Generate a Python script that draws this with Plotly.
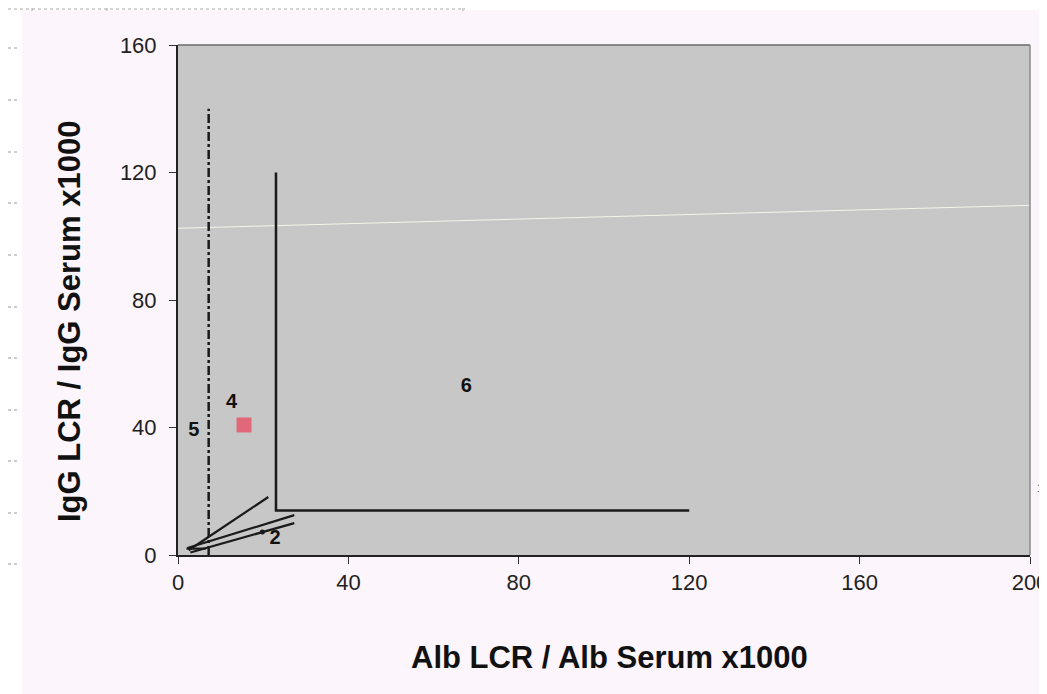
import plotly.graph_objects as go

# ---- data ----
x_ticks = [0, 40, 80, 120, 160, 200]
y_ticks = [0, 40, 80, 120, 160]

# dash-dot vertical limit
dashdot_x = [7.2, 7.2]
dashdot_y = [0, 140]

# solid corner boundary (vertical then horizontal)
corner_x = [23, 23, 120]
corner_y = [120, 14, 14]

# diagonal reference lines
diag_steep_x = [2.5, 21.2]
diag_steep_y = [1.5, 18.2]
diag_upper_x = [2.2, 27.3]
diag_upper_y = [2.2, 12.5]
diag_lower_x = [2.9, 27.3]
diag_lower_y = [0.8, 10.0]

# short segment near origin
stub_x = [2.0, 6.5]
stub_y = [2.0, 2.0]

# patient value
patient_x = [15.5]
patient_y = [40.8]

# small dot on line (zone 2)
dot_x = [19.8]
dot_y = [7.2]

# zone labels
zone_labels = ["4", "5", "6", "2"]
zone_x = [12.6, 3.7, 67.7, 22.8]
zone_y = [47.6, 39.0, 52.7, 5.0]

# faint scan streak
streak_x = [0, 200]
streak_y = [102.5, 109.7]

fig = go.Figure()

fig.add_trace(go.Scatter(x=streak_x, y=streak_y, mode="lines",
                         line=dict(color="rgba(250,250,240,0.9)", width=1),
                         hoverinfo="skip", showlegend=False))
fig.add_trace(go.Scatter(x=dashdot_x, y=dashdot_y, mode="lines",
                         line=dict(color="#1a1a1a", width=2.5, dash="dashdot"),
                         showlegend=False))
fig.add_trace(go.Scatter(x=corner_x, y=corner_y, mode="lines",
                         line=dict(color="#1a1a1a", width=2.5), showlegend=False))
for xs, ys in [(diag_steep_x, diag_steep_y), (diag_upper_x, diag_upper_y),
               (diag_lower_x, diag_lower_y), (stub_x, stub_y)]:
    fig.add_trace(go.Scatter(x=xs, y=ys, mode="lines",
                             line=dict(color="#1a1a1a", width=2.2), showlegend=False))
fig.add_trace(go.Scatter(x=dot_x, y=dot_y, mode="markers",
                         marker=dict(color="#1a1a1a", size=5), showlegend=False))
fig.add_trace(go.Scatter(x=patient_x, y=patient_y, mode="markers",
                         marker=dict(color="#e06878", size=15, symbol="square"),
                         showlegend=False))
fig.add_trace(go.Scatter(x=zone_x, y=zone_y, mode="text",
                         text=["<b>%s</b>" % s for s in zone_labels],
                         textfont=dict(family="Liberation Sans, Arial", size=20, color="#111"),
                         showlegend=False))

# the page body has an 8px margin, so figure coords = screen coords - 8
OFF = 8
W, H = 1047 - OFF, 694 - OFF
L, R, T, B = 178 - OFF, 1030 - OFF, 45 - OFF, 555 - OFF
pw, ph = R - L, B - T


def px(xs):
    return (xs - OFF - L) / pw


def py(ys):
    return (B - (ys - OFF)) / ph


shapes = []
# pinkish page area
shapes.append(dict(type="rect", xref="paper", yref="paper", layer="below",
                   x0=px(22), x1=px(1047), y0=py(694), y1=py(10),
                   fillcolor="#fcf5fb", line=dict(width=0)))
# gray plot area
shapes.append(dict(type="rect", xref="paper", yref="paper", layer="below",
                   x0=0, x1=1, y0=0, y1=1,
                   fillcolor="#c7c7c7", line=dict(width=0)))
# dotted artifacts top
shapes.append(dict(type="line", xref="paper", yref="paper",
                   x0=px(8), x1=px(465), y0=py(9), y1=py(9),
                   line=dict(color="#aaaaaa", width=1, dash="dot")))
for xv in [32, 107, 463]:
    shapes.append(dict(type="line", xref="paper", yref="paper",
                       x0=px(xv), x1=px(xv), y0=py(8), y1=py(14),
                       line=dict(color="#aaaaaa", width=1, dash="dot")))
for yv in [48, 100, 152, 203, 255, 307, 358, 410, 461, 513, 564]:
    shapes.append(dict(type="line", xref="paper", yref="paper",
                       x0=px(8), x1=px(20), y0=py(yv), y1=py(yv),
                       line=dict(color="#999999", width=1, dash="dot")))
# plot border (top/right in gray)
shapes.append(dict(type="line", xref="paper", yref="paper", x0=0, x1=1, y0=1, y1=1,
                   line=dict(color="#6a6a6a", width=1.5)))
shapes.append(dict(type="line", xref="paper", yref="paper", x0=1, x1=1, y0=0, y1=1,
                   line=dict(color="#8a8a8a", width=1.5)))

title_font = dict(family="Liberation Sans, Arial", size=31, color="#111")
annotations = [
    dict(text="<b>Alb LCR / Alb Serum x1000</b>", xref="paper", yref="paper",
         x=px(609), y=py(657), xanchor="center", yanchor="middle",
         showarrow=False, font=title_font),
    dict(text="<b>IgG LCR / IgG Serum x1000</b>", xref="paper", yref="paper",
         x=px(69), y=py(322), xanchor="center", yanchor="middle",
         showarrow=False, textangle=-90, font=title_font),
    dict(text="1", xref="paper", yref="paper", x=px(1040), y=py(488),
         xanchor="center", yanchor="middle",
         showarrow=False, font=dict(family="Liberation Sans, Arial", size=10, color="#555")),
]

tick_font = dict(family="Liberation Sans, Arial", size=22, color="#222")
fig.update_layout(
    width=W, height=H,
    margin=dict(l=L, r=W - R, t=T, b=H - B, autoexpand=False),
    paper_bgcolor="white",
    plot_bgcolor="#c7c7c7",
    showlegend=False,
    shapes=shapes,
    annotations=annotations,
    xaxis=dict(range=[0, 200], tickvals=x_ticks, showgrid=False, zeroline=False,
               automargin=False, ticklabeloverflow="allow",
               showline=True, linecolor="#222", linewidth=2,
               ticks="outside", ticklen=7, tickcolor="#333",
               tickfont=tick_font),
    yaxis=dict(range=[0, 160], tickvals=y_ticks, showgrid=False, zeroline=False,
               automargin=False, ticklabelstandoff=8, ticklabeloverflow="allow",
               showline=True, linecolor="#222", linewidth=2,
               ticks="outside", ticklen=7, tickcolor="#333",
               tickfont=tick_font),
)

fig.write_html("out.html")
